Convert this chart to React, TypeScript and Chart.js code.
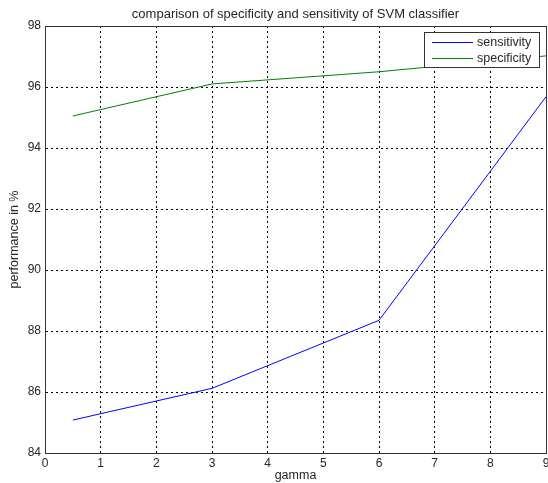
import React, { useEffect, useRef } from "react";
import { Chart, registerables } from "chart.js";

Chart.register(...registerables);

const gammaValues = [0.5, 3, 6, 9];
const sensitivity = [85.08, 86.12, 88.35, 95.68];
const specificity = [95.05, 96.1, 96.5, 97.02];
const seriesLabels = ["sensitivity", "specificity"];
const seriesColors = ["#0000ff", "#008000"];
const titleText = "comparison of specificity and sensitivity of SVM classifier";
const xTitle = "gamma";
const yTitle = "performance in %";

const FONT = "'Liberation Sans', Arial, sans-serif";
const TEXT_COLOR = "#262626";

const boxPlugin = {
  id: "boxPlugin",
  afterDraw(chart: any) {
    const { ctx, chartArea } = chart;
    const { left, right, top, bottom } = chartArea;
    ctx.save();
    ctx.strokeStyle = "#333333";
    ctx.lineWidth = 1;
    ctx.setLineDash([]);
    ctx.strokeRect(Math.round(left) + 0.5, Math.round(top) + 0.5, Math.round(right - left), Math.round(bottom - top));

    // title centered over plot area
    ctx.font = `13px ${FONT}`;
    ctx.fillStyle = TEXT_COLOR;
    ctx.textAlign = "center";
    ctx.textBaseline = "middle";
    ctx.fillText(titleText, (left + right) / 2, 14);

    // legend
    const lx = 424, ly = 32, lw = 115, lh = 35;
    ctx.fillStyle = "#ffffff";
    ctx.fillRect(lx, ly, lw, lh);
    ctx.strokeStyle = "#333333";
    ctx.strokeRect(lx + 0.5, ly + 0.5, lw, lh);
    ctx.font = `12.5px ${FONT}`;
    ctx.textBaseline = "middle";
    ctx.textAlign = "left";
    chart.data.datasets.forEach((ds: any, i: number) => {
      const y = ly + 10 + i * 16;
      ctx.strokeStyle = seriesColors[i];
      ctx.lineWidth = 1;
      ctx.beginPath();
      ctx.moveTo(lx + 8, y + 0.5);
      ctx.lineTo(lx + 49, y + 0.5);
      ctx.stroke();
      ctx.fillStyle = TEXT_COLOR;
      ctx.fillText(ds.label, lx + 53, y + 1);
    });
    ctx.restore();
  },
};

export default function App() {
  const canvasRef = useRef<HTMLCanvasElement | null>(null);

  useEffect(() => {
    const canvas = canvasRef.current;
    if (!canvas) return;
    const chart = new Chart(canvas, {
      type: "line",
      data: {
        datasets: [
          {
            label: seriesLabels[0],
            data: gammaValues.map((g, i) => ({ x: g, y: sensitivity[i] })),
            borderColor: seriesColors[0],
            backgroundColor: seriesColors[0],
            borderWidth: 1,
            pointRadius: 0,
            tension: 0,
          },
          {
            label: seriesLabels[1],
            data: gammaValues.map((g, i) => ({ x: g, y: specificity[i] })),
            borderColor: seriesColors[1],
            backgroundColor: seriesColors[1],
            borderWidth: 1,
            pointRadius: 0,
            tension: 0,
          },
        ],
      },
      options: {
        responsive: false,
        animation: false,
        devicePixelRatio: 1,
        layout: { padding: { left: 0, right: 2, top: 26, bottom: 0 } },
        plugins: {
          legend: { display: false },
          tooltip: { enabled: false },
          title: { display: false },
        },
        scales: {
          x: {
            type: "linear",
            min: 0,
            max: 9,
            ticks: {
              stepSize: 1,
              color: TEXT_COLOR,
              font: { family: FONT, size: 12 },
              padding: 3,
              maxRotation: 0,
            },
            grid: {
              color: "#000000",
              lineWidth: 1,
              drawTicks: false,
            },
            border: { display: true, color: "#333333", dash: [2, 3] },
            title: {
              display: true,
              text: xTitle,
              color: TEXT_COLOR,
              font: { family: FONT, size: 12.5 },
              padding: { top: 0, bottom: 0 },
            },
            afterFit(scale: any) {
              scale.height = 30;
              scale.paddingLeft = 0;
              scale.paddingRight = 0;
            },
          },
          y: {
            min: 84,
            max: 98,
            ticks: {
              stepSize: 2,
              color: TEXT_COLOR,
              font: { family: FONT, size: 12 },
              padding: 4,
            },
            grid: {
              color: "#000000",
              lineWidth: 1,
              drawTicks: false,
            },
            border: { display: true, color: "#333333", dash: [2, 3] },
            title: {
              display: true,
              text: yTitle,
              color: TEXT_COLOR,
              font: { family: FONT, size: 12.5 },
              padding: { top: 7, bottom: 0 },
            },
            afterFit(scale: any) {
              scale.width = 45;
              scale.paddingTop = 0;
              scale.paddingBottom = 0;
            },
          },
        },
      },
      plugins: [boxPlugin],
    } as any);
    return () => chart.destroy();
  }, []);

  return (
    <div style={{ position: "fixed", left: 0, top: 0, width: 548, height: 483, background: "#ffffff" }}>
      <canvas ref={canvasRef} width={548} height={483} style={{ width: 548, height: 483, display: "block" }} />
    </div>
  );
}
